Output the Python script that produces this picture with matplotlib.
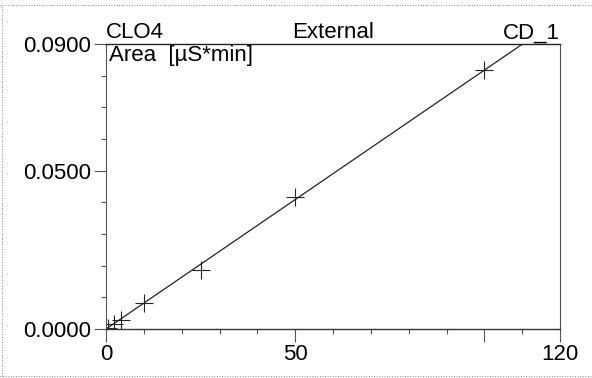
import numpy as np
import matplotlib.pyplot as plt
from matplotlib.lines import Line2D

plt.rcParams['font.family'] = ['Liberation Sans', 'DejaVu Sans']

# calibration standards: amount vs. peak area
amount = [0.5, 2.0, 4.0, 10.0, 25.0, 50.0, 100.0]
area = [0.0004, 0.0016, 0.0028, 0.0082, 0.0186, 0.0417, 0.0818]

x_major = [0, 50, 100, 120]
x_major_labels = ['0', '50', '', '120']
x_minor = [10, 20, 30, 40, 60, 70, 80, 90, 110]
y_major = [0.0, 0.05, 0.09]
y_major_labels = ['0.0000', '0.0500', '0.0900']
y_minor = [0.01, 0.02, 0.03, 0.04, 0.06, 0.07, 0.08]

# linear fit through the origin
x = np.array(amount)
y = np.array(area)
slope = (x * y).sum() / (x * x).sum()

fig = plt.figure(figsize=(5.92, 3.78), dpi=100)
ax = fig.add_axes([106 / 592, 1 - 329 / 378, 454 / 592, 285 / 378])

xx = np.array([0, 120])
ax.plot(xx, slope * xx, color='#222222', lw=0.9)
ax.plot(amount, area, ls='none', marker='+', ms=13, mew=0.8, color='#222222')

ax.set_xlim(0, 120)
ax.set_ylim(0, 0.09)
ax.set_xticks(x_major)
ax.set_xticklabels(x_major_labels)
ax.set_xticks(x_minor, minor=True)
ax.set_yticks(y_major)
ax.set_yticklabels(y_major_labels)
ax.set_yticks(y_minor, minor=True)
ax.tick_params(which='major', direction='out', length=9, width=0.8,
               labelsize=16, color='#555555')
ax.tick_params(which='minor', direction='out', length=3.5, width=0.8,
               color='#555555')
ax.tick_params(axis='x', which='major', pad=2)
ax.tick_params(axis='y', which='major', pad=1.5)

for side in ['left', 'right']:
    ax.spines[side].set_color('#555555')
    ax.spines[side].set_linestyle((0, (2, 1)))
    ax.spines[side].set_linewidth(0.8)
ax.spines['bottom'].set_color('#333333')
ax.spines['top'].set_color('#222222')
ax.spines['bottom'].set_linewidth(1.0)
ax.spines['top'].set_linewidth(1.0)

ax.set_title('CLO4', loc='left', fontsize=16, pad=6)
ax.set_title('External', loc='center', fontsize=16, pad=4)
ax.set_title('CD_1', loc='right', fontsize=16, pad=4)
ax.text(0.006, 0.998, 'Area  [µS*min]', transform=ax.transAxes,
        ha='left', va='top', fontsize=16)

# dotted border of the printout
for xs, ys in [([0, 1], [0.987, 0.987]), ([0, 1], [0.006, 0.006]),
               ([0.004, 0.004], [0.006, 0.987])]:
    fig.add_artist(Line2D(xs, ys, transform=fig.transFigure,
                          color='#888888', lw=0.7, ls=':'))

fig.savefig('out.png', dpi=100)
